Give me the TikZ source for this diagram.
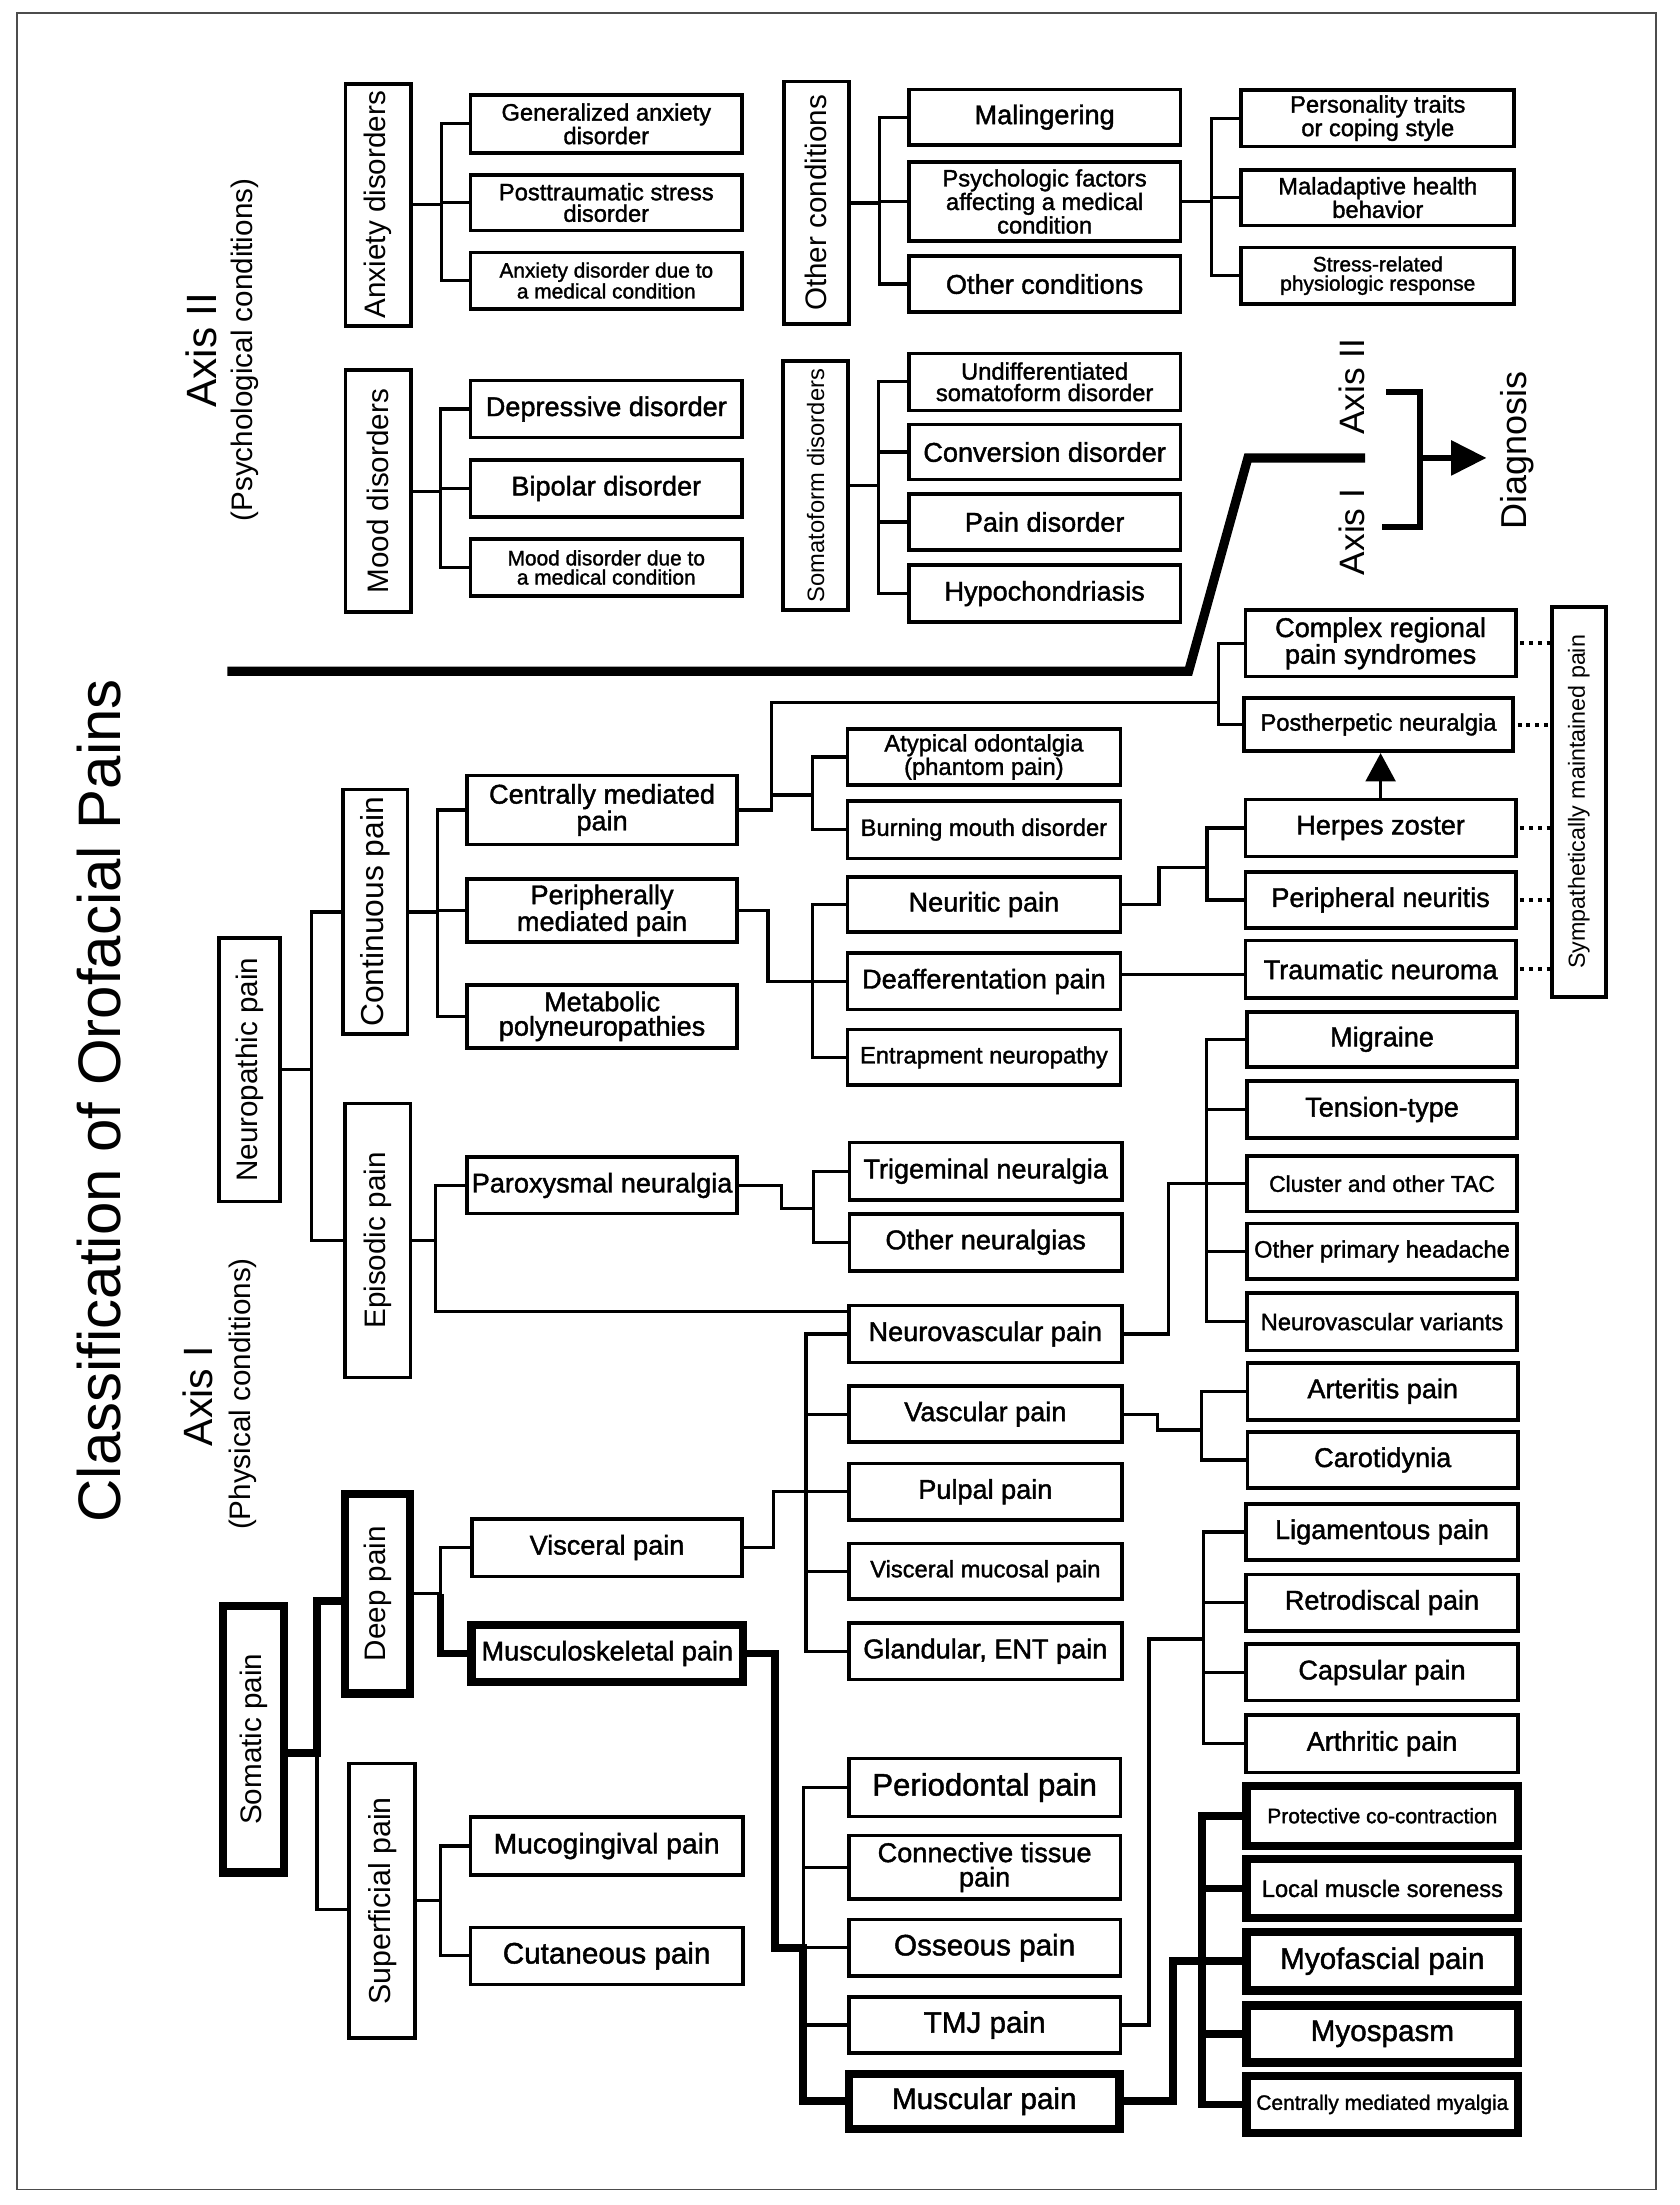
\documentclass[tikz,border=0pt]{standalone}
\usepackage{fontspec}
\usepackage{graphicx}
\setmainfont{Liberation Sans}
\newfontfamily\bxf{Liberation Sans}[FakeBold=1.5]
\usetikzlibrary{arrows.meta}
\begin{document}
\begin{tikzpicture}[x=1pt,y=-1pt,
  sz/.style 2 args={minimum width=#1pt, minimum height=#2pt},
  box/.style={draw, line width=2.6pt, inner sep=0pt, align=center},
  tbox/.style={box, line width=6pt},
  fL/.style={font=\bxf\fontsize{19.2}{17.3}\selectfont},
  fM/.style={font=\bxf\fontsize{16.8}{15.2}\selectfont},
  fS/.style={font=\bxf\fontsize{14.8}{13.6}\selectfont},
  fX/.style={font=\bxf\fontsize{21}{19}\selectfont},
  vlab/.style={draw, line width=2.6pt, inner sep=0pt, font=\fontsize{21}{21}\selectfont},
  conn/.style={line width=2.3pt},
  thk/.style={line width=5.5pt},
  dotl/.style={line width=2.8pt, dash pattern=on 2.8pt off 3.4pt, shorten <=2pt},
  lab/.style={rotate=90, inner sep=0pt}
]
\useasboundingbox (0,0) rectangle (1190,1562);
\draw[line width=1.2pt, black!70] (12,9) rectangle (1173,1551);

% ---------- labels ----------
\node[lab, font=\fontsize{42.5}{42.5}\selectfont] (title) at (70.5,779.7) {Classification of Orofacial Pains};
\node[lab, font=\fontsize{30}{30}\selectfont] (ax2) at (142.5,248) {Axis II};
\node[lab, font=\fontsize{21}{21}\selectfont] (psyc) at (173.5,248) {(Psychological conditions)};
\node[lab, font=\fontsize{29}{29}\selectfont] (ax1) at (140,989) {Axis I};
\node[lab, font=\fontsize{21}{21}\selectfont] (phys) at (172,987.5) {(Physical conditions)};
\node[lab, font=\fontsize{25}{25}\selectfont] (dax2) at (957.3,273.8) {Axis II};
\node[lab, font=\fontsize{25}{25}\selectfont] (dax1) at (957.3,376.8) {Axis I};
\node[lab, font=\fontsize{25.5}{25.5}\selectfont] (diag) at (1074.6,319.3) {Diagnosis};

% ---------- Axis II nodes ----------
\node[vlab, sz={46.4}{171.4}] (anx) at (268,145) {\rotatebox{90}{Anxiety disorders}};
\node[vlab, sz={46.4}{171.4}] (mood) at (268,348) {\rotatebox{90}{Mood disorders}};
\node[box, fM, sz={192.4}{40.9}] (gad) at (429.5,87.75) {Generalized anxiety\\disorder};
\node[box, fM, sz={192.4}{39.4}] (ptsd) at (429.5,143.5) {Posttraumatic stress\\disorder};
\node[box, fS, sz={192.4}{39.9}] (adm) at (429.5,198.75) {Anxiety disorder due to\\a medical condition};
\node[box, fL, sz={192.4}{40.4}] (dep) at (429.5,289.75) {Depressive disorder};
\node[box, fL, sz={192.4}{40.4}] (bip) at (429.5,346) {Bipolar disorder};
\node[box, fS, sz={192.4}{40.4}] (mdm) at (429.5,402) {Mood disorder due to\\a medical condition};
\node[vlab, sz={45.9}{171.9}] (oth) at (578.25,143.75) {\rotatebox{90}{Other conditions}};
\node[vlab, font=\fontsize{16.8}{16.8}\selectfont, sz={45.9}{176.4}] (som) at (577.75,344) {\rotatebox{90}{Somatoform disorders}};
\node[box, fL, sz={192.4}{39.4}] (mal) at (740,83) {Malingering};
\node[box, fM, sz={192.4}{55.9}] (psy) at (740,142.75) {Psychologic factors\\affecting a medical\\condition};
\node[box, fL, sz={192.4}{39.9}] (othc) at (740,201.25) {Other conditions};
\node[box, fM, sz={192.4}{40.4}] (und) at (740,270.5) {Undifferentiated\\somatoform disorder};
\node[box, fL, sz={192.4}{38.9}] (conv) at (740,320.25) {Conversion disorder};
\node[box, fL, sz={192.4}{39.9}] (paind) at (740,369.75) {Pain disorder};
\node[box, fL, sz={192.4}{40.4}] (hypo) at (740,420.5) {Hypochondriasis};
\node[box, fM, sz={193.4}{39.9}] (pers) at (976,83.75) {Personality traits\\or coping style};
\node[box, fM, sz={193.4}{39.4}] (malad) at (976,140) {Maladaptive health\\behavior};
\node[box, fS, sz={193.4}{39.9}] (stress) at (976,195.25) {Stress-related\\physiologic response};

% ---------- Axis I nodes ----------
\node[vlab, sz={42.9}{186.9}] (neuro) at (176.75,757.75) {\rotatebox{90}{Neuropathic pain}};
\node[vlab, font=\fontsize{22.5}{22.5}\selectfont, sz={45.9}{173.4}] (cont) at (265.75,646) {\rotatebox{90}{Continuous pain}};
\node[vlab, sz={46.4}{193.9}] (epis) at (267.5,878.75) {\rotatebox{90}{Episodic pain}};
\node[box, fL, sz={191.4}{48.9}] (cmp) at (426.5,573.75) {Centrally mediated\\pain};
\node[box, fL, sz={191.4}{44.4}] (pmp) at (426.5,645) {Peripherally\\mediated pain};
\node[box, fL, sz={191.4}{44.4}] (meta) at (426.5,720) {Metabolic\\polyneuropathies};
\node[box, fL, sz={191.4}{39.9}] (parox) at (426.5,839.75) {Paroxysmal neuralgia};
\node[box, fM, sz={193.4}{39.9}] (atyp) at (697,536.25) {Atypical odontalgia\\(phantom pain)};
\node[box, fM, sz={193.4}{40.9}] (burn) at (697,587.75) {Burning mouth disorder};
\node[box, fL, sz={193.4}{38.9}] (neurit) at (697,640.75) {Neuritic pain};
\node[box, fL, sz={193.4}{39.9}] (deaff) at (697,695.25) {Deafferentation pain};
\node[box, fM, sz={193.4}{39.4}] (entr) at (697,749) {Entrapment neuropathy};
\node[box, fL, sz={192.9}{40.9}] (trig) at (698.25,829.75) {Trigeminal neuralgia};
\node[box, fL, sz={192.9}{40.4}] (othn) at (698.25,880) {Other neuralgias};
\node[box, fL, sz={193.4}{40.4}] (nvp) at (698,945) {Neurovascular pain};
\node[box, fL, sz={193.4}{39.9}] (vasc) at (698,1001.75) {Vascular pain};
\node[box, fL, sz={193.4}{39.9}] (pulp) at (698,1056.75) {Pulpal pain};
\node[box, fM, sz={193.4}{39.4}] (vmuc) at (698,1113) {Visceral mucosal pain};
\node[box, fL, sz={193.4}{39.9}] (gland) at (698,1169.75) {Glandular, ENT pain};
\node[box, font=\bxf\fontsize{22}{20}\selectfont, sz={192.4}{40.9}] (perio) at (697.5,1266.25) {Periodontal pain};
\node[box, fL, sz={192.4}{44.9}] (ctis) at (697.5,1322.75) {Connective tissue\\pain};
\node[box, fX, sz={192.4}{39.9}] (oss) at (697.5,1379.75) {Osseous pain};
\node[box, fX, sz={192.4}{39.4}] (tmj) at (697.5,1434.5) {TMJ pain};
\node[tbox, fX, sz={191.5}{39}] (musc) at (697.25,1488.5) {Muscular pain};
\node[box, fL, sz={191.4}{46.9}] (crps) at (978,455.75) {Complex regional\\pain syndromes};
\node[box, fM, sz={190.4}{37.9}] (phn) at (976.5,513.25) {Postherpetic neuralgia};
\node[box, fL, sz={191.4}{40.4}] (hz) at (978,586.5) {Herpes zoster};
\node[box, fL, sz={191.4}{39.4}] (pn) at (978,637.5) {Peripheral neuritis};
\node[box, fL, sz={191.4}{40.9}] (tn) at (978,686.75) {Traumatic neuroma};
\node[box, fL, sz={191.4}{38.9}] (mig) at (979,736.25) {Migraine};
\node[box, fL, sz={191.4}{40.4}] (tens) at (979,786) {Tension-type};
\node[box, font=\bxf\fontsize{16.2}{16}\selectfont, sz={191.4}{39.4}] (clus) at (979,838.5) {Cluster and other TAC};
\node[box, fM, sz={191.4}{39.4}] (oph) at (979,886.5) {Other primary headache};
\node[box, fM, sz={191.4}{40.9}] (nvv) at (979,936.25) {Neurovascular variants};
\node[box, fL, sz={191.4}{40.4}] (art) at (979.5,985.5) {Arteritis pain};
\node[box, fL, sz={191.4}{39.9}] (car) at (979.5,1034.25) {Carotidynia};
\node[box, fL, sz={192.4}{39.9}] (lig) at (979,1085.25) {Ligamentous pain};
\node[box, fL, sz={192.4}{39.9}] (retro) at (979,1135.25) {Retrodiscal pain};
\node[box, fL, sz={192.4}{39.9}] (caps) at (979,1184.75) {Capsular pain};
\node[box, fL, sz={192.4}{40.9}] (arth) at (979,1235.25) {Arthritic pain};
\node[tbox, fS, sz={192.5}{42.5}] (prot) at (979.25,1286.25) {Protective co-contraction};
\node[tbox, fM, sz={192.5}{41.5}] (local) at (979.25,1337.75) {Local muscle soreness};
\node[tbox, fX, sz={192.5}{41.5}] (myof) at (979.25,1389.25) {Myofascial pain};
\node[tbox, fX, sz={192.5}{40.5}] (myos) at (979.25,1440.75) {Myospasm};
\node[tbox, fS, sz={192.5}{40.5}] (cmm) at (979.25,1490.75) {Centrally mediated myalgia};
\node[vlab, font=\fontsize{16.5}{16.5}\selectfont, sz={38.4}{276.4}] (smp) at (1118.5,568) {\rotatebox{90}{Sympathetically maintained pain}};
\node[vlab, line width=6pt, sz={43}{189}] (soma) at (179.5,1232) {\rotatebox{90}{Somatic pain}};
\node[vlab, line width=6pt, sz={46}{141}] (deep) at (267.5,1129) {\rotatebox{90}{Deep pain}};
\node[vlab, font=\fontsize{21.5}{21.5}\selectfont, sz={46.9}{194.4}] (sup) at (270.75,1346.5) {\rotatebox{90}{Superficial pain}};
\node[box, fL, sz={191.4}{40.9}] (visc) at (430,1096.25) {Visceral pain};
\node[tbox, fL, sz={192.5}{40.5}] (msk) at (430.25,1171.25) {Musculoskeletal pain};
\node[box, font=\bxf\fontsize{20}{20}\selectfont, sz={192.9}{40.9}] (muco) at (429.75,1307.75) {Mucogingival pain};
\node[box, font=\bxf\fontsize{21}{21}\selectfont, sz={192.9}{40.4}] (cuta) at (429.75,1385.5) {Cutaneous pain};

% ---------- bus coordinates ----------
\coordinate (bAnx) at (313,0);
\coordinate (bMood) at (312,0);
\coordinate (bOth) at (623,0);
\coordinate (bSom) at (622.5,0);
\coordinate (bPsy) at (858,0);
\coordinate (bNeu) at (220.5,0);
\coordinate (bCont) at (310,0);
\coordinate (bEp) at (308.5,0);
\coordinate (jC) at (546.5,497.8);
\coordinate (bCr) at (863,497.8);
\coordinate (bAt) at (575.5,563.2);
\coordinate (jP) at (544,0);
\coordinate (bPm) at (575.5,0);
\coordinate (jN) at (821,614.7);
\coordinate (bHz) at (855,614.7);
\coordinate (jX) at (553.4,856);
\coordinate (bTr) at (576.4,856);
\coordinate (bVi) at (571,0);
\coordinate (jV) at (548,0);
\coordinate (jNv) at (827.7,0);
\coordinate (bHd) at (854.7,0);
\coordinate (jVa) at (820,1012.9);
\coordinate (bAr) at (851.3,1012.9);
\coordinate (bDp) at (312,0);
\coordinate (bSo) at (224.5,0);
\coordinate (bSu) at (312,0);
\coordinate (jM) at (549,0);
\coordinate (bMs) at (569,0);
\coordinate (jT) at (814,1161);
\coordinate (bLg) at (852.6,1161);
\coordinate (jMu) at (831,0);
\coordinate (bMu) at (851.3,0);

% ---------- Axis II connectors ----------
\draw[conn] (gad.west) -- (gad.west -| bAnx) -- (adm.west -| bAnx) -- (adm.west);
\draw[conn] (ptsd.west) -- (ptsd.west -| bAnx);
\draw[conn] (anx.east) -- (anx.east -| bAnx);
\draw[conn] (dep.west) -- (dep.west -| bMood) -- (mdm.west -| bMood) -- (mdm.west);
\draw[conn] (bip.west) -- (bip.west -| bMood);
\draw[conn] (mood.east) -- (mood.east -| bMood);
\draw[conn] (mal.west) -- (mal.west -| bOth) -- (othc.west -| bOth) -- (othc.west);
\draw[conn] (psy.west) -- (psy.west -| bOth);
\draw[conn] (oth.east) -- (oth.east -| bOth);
\draw[conn] (und.west) -- (und.west -| bSom) -- (hypo.west -| bSom) -- (hypo.west);
\draw[conn] (conv.west) -- (conv.west -| bSom);
\draw[conn] (paind.west) -- (paind.west -| bSom);
\draw[conn] (som.east) -- (som.east -| bSom);
\draw[conn] (pers.west) -- (pers.west -| bPsy) -- (stress.west -| bPsy) -- (stress.west);
\draw[conn] (malad.west) -- (malad.west -| bPsy);
\draw[conn] (psy.east) -- (psy.east -| bPsy);

% ---------- divider and diagnosis ----------
\coordinate (d1) at (161,475.5);
\coordinate (d2) at (842,475.5);
\coordinate (d3) at (884,324.4);
\coordinate (d4) at (967,324.4);
\draw[line width=6.5pt] (d1) -- (d2) -- (d3) -- (d4);
\coordinate (br1) at (982,277.4);
\coordinate (br2) at (1006,277.4);
\coordinate (br3) at (1006,373.5);
\coordinate (br4) at (979,373.5);
\coordinate (brM) at (1006,324.4);
\coordinate (brT) at (1053,324.4);
\draw[line width=4.2pt] (br1) -- (br2) -- (br3) -- (br4);
\draw[line width=4.2pt, -{Triangle[length=25pt,width=24pt]}] (brM) -- (brT);

% ---------- neuropathic connectors ----------
\draw[conn] (cont.west) -- (cont.west -| bNeu) -- (epis.west -| bNeu) -- (epis.west);
\draw[conn] (neuro.east) -- (neuro.east -| bNeu);
\draw[conn] (cmp.west) -- (cmp.west -| bCont) -- (meta.west -| bCont) -- (meta.west);
\draw[conn] (pmp.west) -- (pmp.west -| bCont);
\draw[conn] (cont.east) -- (cont.east -| bCont);
\coordinate (nvpIn) at ([yshift=16.2pt]nvp.west);
\draw[conn] (parox.west) -- (parox.west -| bEp) -- (nvpIn -| bEp) -- (nvpIn);
\draw[conn] (epis.east) -- (epis.east -| bEp);
\draw[conn] (cmp.east) -| (jC) -- (bCr);
\draw[conn] (crps.west) -- (crps.west -| bCr) -- (phn.west -| bCr) -- (phn.west);
\draw[conn] (bAt -| jC) -- (bAt);
\draw[conn] (atyp.west) -- (atyp.west -| bAt) -- (burn.west -| bAt) -- (burn.west);
\draw[conn] (pmp.east) -| (jP |- deaff.west) -- (deaff.west);
\draw[conn] (neurit.west) -- (neurit.west -| bPm) -- (entr.west -| bPm) -- (entr.west);
\draw[conn] (neurit.east) -| (jN) -- (bHz);
\draw[conn] (hz.west) -- (hz.west -| bHz) -- (pn.west -| bHz) -- (pn.west);
\coordinate (dT) at ([yshift=5pt]deaff.east);
\draw[conn] (dT) -- (dT -| tn.west);
\draw[conn] (parox.east) -| (jX) -- (bTr);
\draw[conn] (trig.west) -- (trig.west -| bTr) -- (othn.west -| bTr) -- (othn.west);
\draw[conn, -{Triangle[length=20pt,width=21pt]}] (hz.north) -- (hz.north |- phn.south);
\foreach \n in {crps,phn,hz,pn,tn} \draw[dotl] (\n.east) -- (\n.east -| smp.west);

% ---------- visceral / neurovascular ----------
\draw[conn] (nvp.west) -- (nvp.west -| bVi) -- (gland.west -| bVi) -- (gland.west);
\draw[conn] (vasc.west) -- (vasc.west -| bVi);
\draw[conn] (vmuc.west) -- (vmuc.west -| bVi);
\draw[conn] (visc.east) -| (jV |- pulp.west) -- (pulp.west);
\draw[conn] (nvp.east) -| (jNv |- clus.west) -- (clus.west);
\draw[conn] (mig.west) -- (mig.west -| bHd) -- (nvv.west -| bHd) -- (nvv.west);
\draw[conn] (tens.west) -- (tens.west -| bHd);
\draw[conn] (oph.west) -- (oph.west -| bHd);
\draw[conn] (vasc.east) -| (jVa) -- (bAr);
\draw[conn] (art.west) -- (art.west -| bAr) -- (car.west -| bAr) -- (car.west);

% ---------- somatic ----------
\coordinate (soOut) at ([yshift=-10pt]soma.east);
\coordinate (dpIn) at ([yshift=-5pt]deep.west);
\coordinate (suIn) at ([yshift=-6pt]sup.west);
\draw[conn] (soOut -| bSo) -- (suIn -| bSo) -- (suIn);
\draw[thk] (soOut) -- (soOut -| bSo) -- (dpIn -| bSo) -- (dpIn);
\draw[conn] (visc.west) -- (visc.west -| bDp) -- (deep.east -| bDp);
\draw[conn] (deep.east) -- (deep.east -| bDp);
\draw[thk] (deep.east -| bDp) -- (msk.west -| bDp) -- (msk.west);
\draw[conn] (muco.west) -- (muco.west -| bSu) -- (cuta.west -| bSu) -- (cuta.west);
\draw[conn] (sup.east) -- (sup.east -| bSu);

% ---------- musculoskeletal ----------
\draw[conn] (perio.west) -- (perio.west -| bMs) -- (oss.west -| bMs) -- (oss.west);
\draw[conn] (ctis.west) -- (ctis.west -| bMs);
\draw[conn] (tmj.west) -- (tmj.west -| bMs);
\draw[thk] (msk.east) -| (jM |- oss.west) -- (oss.west -| bMs) -- (musc.west -| bMs) -- (musc.west);
\draw[conn] (tmj.east) -| (jT) -- (bLg);
\draw[conn] (lig.west) -- (lig.west -| bLg) -- (arth.west -| bLg) -- (arth.west);
\draw[conn] (retro.west) -- (retro.west -| bLg);
\draw[conn] (caps.west) -- (caps.west -| bLg);
\draw[thk] (musc.east) -| (jMu |- myof.west) -- (myof.west);
\draw[thk] (prot.west) -- (prot.west -| bMu) -- (cmm.west -| bMu) -- (cmm.west);
\draw[thk] (local.west) -- (local.west -| bMu);
\draw[thk] (myos.west) -- (myos.west -| bMu);
\end{tikzpicture}
\end{document}
